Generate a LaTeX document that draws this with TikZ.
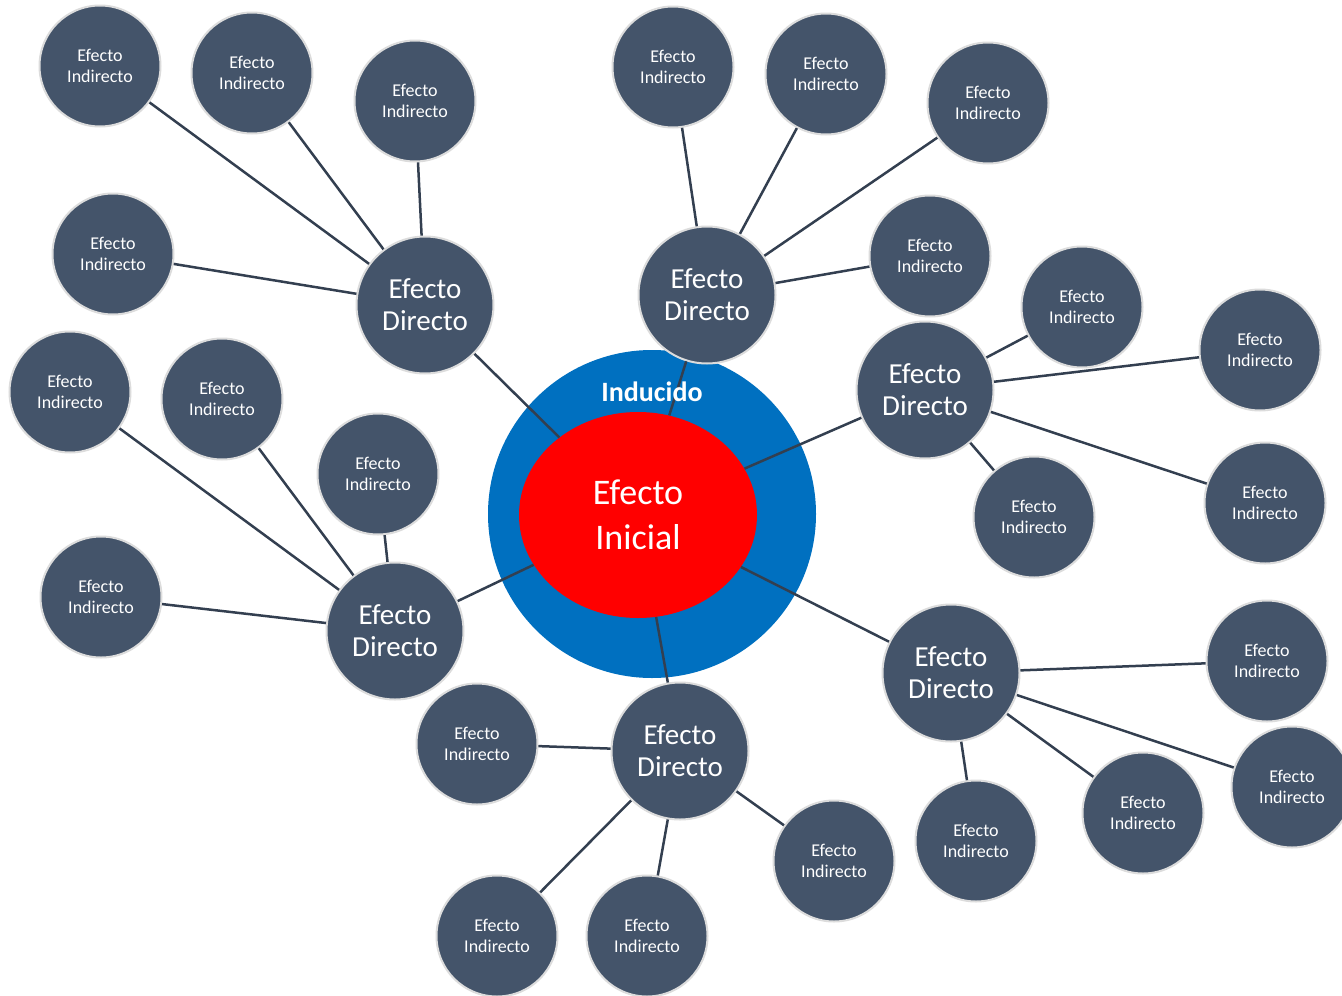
\documentclass[tikz,border=0pt]{standalone}
\usepackage{fontspec}
\setmainfont{Carlito}
\usetikzlibrary{shapes.geometric}
\definecolor{nodefill}{HTML}{44546A}
\definecolor{nodeedge}{HTML}{DCDCDC}
\definecolor{linkcol}{HTML}{333F50}
\definecolor{ringblue}{HTML}{0070C0}
\definecolor{corered}{HTML}{FF0000}
\tikzset{
  indnode/.style={circle, fill=nodefill, draw=nodeedge, line width=2pt, minimum size=121pt, inner sep=0pt, align=center, text=white, font=\fontsize{18}{21}\selectfont},
  dirnode/.style={circle, fill=nodefill, draw=nodeedge, line width=2pt, minimum size=137pt, inner sep=0pt, align=center, text=white, font=\fontsize{29}{32}\selectfont},
  link/.style={draw=linkcol, line width=2.5pt}
}
\begin{document}
\begin{tikzpicture}[x=1pt,y=-1pt]
\clip (0,0) rectangle (1342,996);
\fill[white] (0,0) rectangle (1342,996);
% center
\node[circle, fill=ringblue, minimum size=328pt, inner sep=0pt] (ring) at (652,514) {};
\node[ellipse, fill=corered, minimum width=238pt, minimum height=206pt, inner sep=0pt, align=center, text=white, font=\fontsize{36}{45}\selectfont] (core) at (638,515) {\raisebox{-3pt}{Efecto}\\\raisebox{-3pt}{Inicial}};
% direct effects
\node[dirnode] (d1) at (425,305) {Efecto\\Directo};
\node[dirnode] (d2) at (707,295) {Efecto\\Directo};
\node[dirnode] (d3) at (925,390) {Efecto\\Directo};
\node[dirnode] (d4) at (951,673) {Efecto\\Directo};
\node[dirnode] (d5) at (680,751) {Efecto\\Directo};
\node[dirnode] (d6) at (395,631) {Efecto\\Directo};
% indirect effects
\node[indnode] (i1) at (100,66) {Efecto\\Indirecto};
\node[indnode] (i2) at (252,73) {Efecto\\Indirecto};
\node[indnode] (i3) at (415,101) {Efecto\\Indirecto};
\node[indnode] (i4) at (113,254) {Efecto\\Indirecto};
\node[indnode] (i5) at (673,67) {Efecto\\Indirecto};
\node[indnode] (i6) at (826,74) {Efecto\\Indirecto};
\node[indnode] (i7) at (988,103) {Efecto\\Indirecto};
\node[indnode] (i8) at (930,256) {Efecto\\Indirecto};
\node[indnode] (i9) at (1082,307) {Efecto\\Indirecto};
\node[indnode] (i10) at (1260,350) {Efecto\\Indirecto};
\node[indnode] (i11) at (1265,503) {Efecto\\Indirecto};
\node[indnode] (i12) at (1034,517) {Efecto\\Indirecto};
\node[indnode] (i13) at (1267,661) {Efecto\\Indirecto};
\node[indnode] (i14) at (1292,787) {Efecto\\Indirecto};
\node[indnode] (i15) at (1143,813) {Efecto\\Indirecto};
\node[indnode] (i16) at (976,841) {Efecto\\Indirecto};
\node[indnode] (i17) at (477,744) {Efecto\\Indirecto};
\node[indnode] (i18) at (834,861) {Efecto\\Indirecto};
\node[indnode] (i19) at (497,936) {Efecto\\Indirecto};
\node[indnode] (i20) at (647,936) {Efecto\\Indirecto};
\node[indnode] (i21) at (70,392) {Efecto\\Indirecto};
\node[indnode] (i22) at (222,399) {Efecto\\Indirecto};
\node[indnode] (i23) at (378,474) {Efecto\\Indirecto};
\node[indnode] (i24) at (101,597) {Efecto\\Indirecto};
% connectors
\foreach \d in {d1,d2,d3,d4,d5,d6} {\draw[link] (\d) -- (core);}
\foreach \i in {i1,i2,i3,i4} {\draw[link] (d1) -- (\i);}
\foreach \i in {i5,i6,i7,i8} {\draw[link] (d2) -- (\i);}
\foreach \i in {i9,i10,i11,i12} {\draw[link] (d3) -- (\i);}
\foreach \i in {i13,i14,i15,i16} {\draw[link] (d4) -- (\i);}
\foreach \i in {i17,i18,i19,i20} {\draw[link] (d5) -- (\i);}
\foreach \i in {i21,i22,i23,i24} {\draw[link] (d6) -- (\i);}
% ring label on top of the connector
\node[text=white, font=\bfseries\fontsize{28}{30}\selectfont] (ind) at (652,392) {Inducido};
\end{tikzpicture}
\end{document}
